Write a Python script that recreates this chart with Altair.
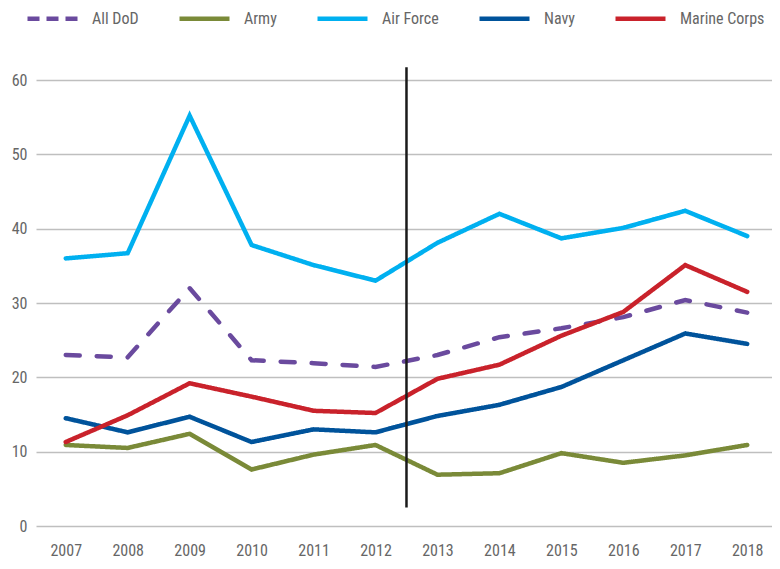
import altair as alt
import pandas as pd

years = list(range(2007, 2019))
series_order = ["All DoD", "Army", "Air Force", "Navy", "Marine Corps"]
colors = ["#6A4A9E", "#7A8A38", "#00B0F0", "#00539B", "#C9222B"]

all_dod = [23.0, 22.7, 32.0, 22.3, 21.9, 21.4, 23.0, 25.4, 26.6, 28.1, 30.4, 28.7]
army = [10.9, 10.5, 12.4, 7.6, 9.6, 10.9, 6.9, 7.1, 9.8, 8.5, 9.5, 10.9]
air_force = [36.0, 36.7, 55.2, 37.8, 35.1, 33.0, 38.1, 42.0, 38.7, 40.1, 42.4, 39.0]
navy = [14.5, 12.6, 14.7, 11.3, 13.0, 12.6, 14.8, 16.3, 18.7, 22.3, 25.9, 24.5]
marine_corps = [11.3, 14.9, 19.2, 17.4, 15.5, 15.2, 19.8, 21.7, 25.6, 28.8, 35.1, 31.5]

divider_x = [2012.5]
divider_y = [61.7]
divider_y2 = [2.5]

values = {
    "All DoD": all_dod,
    "Army": army,
    "Air Force": air_force,
    "Navy": navy,
    "Marine Corps": marine_corps,
}
rows = []
for s in series_order:
    for yr, v in zip(years, values[s]):
        rows.append({"year": yr, "value": v, "series": s})
df = pd.DataFrame(rows)

# empty-valued rows: only used to build the legend (no visible marks)
legend_df = pd.DataFrame({"year": [2007] * len(series_order),
                          "value": [None] * len(series_order),
                          "series": series_order})

FONT = "Liberation Sans Narrow, Roboto Condensed, Roboto, sans-serif"

xscale = alt.Scale(domain=[2006.52, 2018.4], nice=False, zero=False)
yscale = alt.Scale(domain=[0, 60], nice=False)

legend_kw = dict(title=None, orient="none", direction="horizontal",
                 legendX=-11, legendY=-89,
                 symbolType="stroke", symbolSize=2500,
                 symbolStrokeWidth=4.5, labelFontSize=16,
                 labelColor="#666666", labelFont=FONT,
                 labelOffset=12, columnPadding=31)

xenc = alt.X("year:Q", scale=xscale,
             axis=alt.Axis(values=years, format="d", title=None, grid=False, ticks=False,
                           domain=False, labelPadding=16, labelFontSize=16,
                           labelColor="#666666", labelFont=FONT))
yenc = alt.Y("value:Q", scale=yscale,
             axis=alt.Axis(values=[0, 10, 20, 30, 40, 50, 60], title=None, grid=True,
                           gridColor="#BFBFBF", gridWidth=1.3, ticks=False, domain=False,
                           labelPadding=9, labelFontSize=16, labelColor="#666666",
                           labelFont=FONT))

lines = alt.Chart(df).mark_line(strokeWidth=4.5, strokeCap="round", strokeJoin="miter").encode(
    x=xenc,
    y=yenc,
    color=alt.Color("series:N", sort=series_order,
                    scale=alt.Scale(domain=series_order, range=colors), legend=None),
    strokeDash=alt.StrokeDash("series:N", sort=series_order,
                              scale=alt.Scale(domain=series_order,
                                              range=[[14, 17], [1, 0], [1, 0], [1, 0], [1, 0]]),
                              legend=None),
    detail="series:N",
)

legend_layer = alt.Chart(legend_df).mark_line(strokeWidth=4.5).encode(
    x=alt.X("year:Q", scale=xscale),
    y=alt.Y("value:Q", scale=yscale),
    color=alt.Color("series:N", sort=series_order,
                    scale=alt.Scale(domain=series_order, range=colors),
                    legend=alt.Legend(**legend_kw)),
    strokeDash=alt.StrokeDash("series:N", sort=series_order,
                              scale=alt.Scale(domain=series_order,
                                              range=[[12, 7], [1, 0], [1, 0], [1, 0], [1, 0]]),
                              legend=alt.Legend(**legend_kw)),
)

div_df = pd.DataFrame({"x": divider_x, "y": divider_y, "y2": divider_y2})
divider = alt.Chart(div_df).mark_rule(color="#1A1A1A", strokeWidth=2.5).encode(
    x=alt.X("x:Q", scale=xscale),
    y=alt.Y("y:Q", scale=yscale),
    y2="y2:Q",
)

chart = alt.layer(lines, legend_layer, divider).resolve_scale(
    strokeDash="independent", color="independent"
).properties(
    width=736, height=446,
    autosize=alt.AutoSizeParams(type="none"),
    padding={"left": 28, "top": 72, "right": 0, "bottom": 34},
).configure_view(stroke=None)

chart.save("out.html", embed_options={"renderer": "svg", "actions": False})
